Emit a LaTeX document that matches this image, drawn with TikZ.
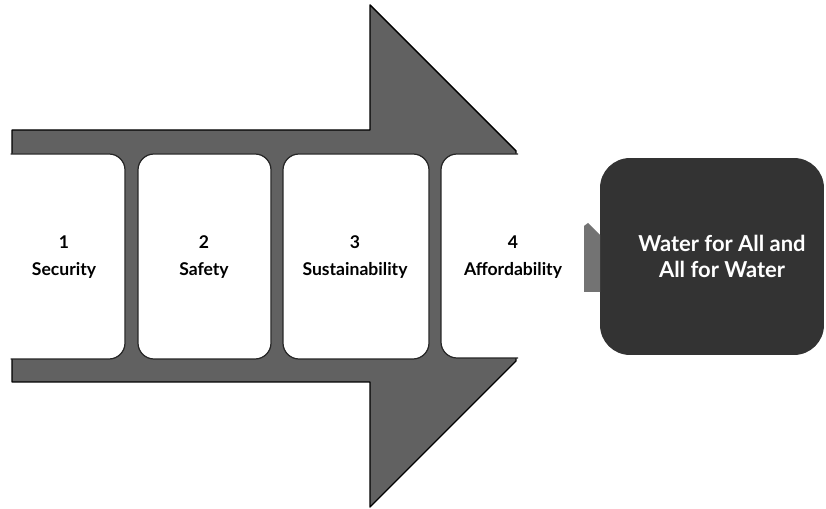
\documentclass[tikz,border=0pt]{standalone}
\usepackage{fontspec}
\setsansfont{Lato}
\usetikzlibrary{positioning}
\tikzset{
	every node/.style={
		font=\sffamily\bfseries\fontsize{10}{15}\selectfont
	},
	phase/.style={
		align=center,
		text=black
	},
	arrowbody/.style={
		fill=black!62,
		draw=black,
		line width=0.8pt,
		line join=round
	},
	card/.style={
		fill=white,
		draw=black!85,
		line width=0.7pt,
		rounded corners=0.32cm
	},
	goal/.style={
		shape=rectangle,
		fill=black!80,
		text=white,
		align=center,
		minimum width=4.48cm,
		minimum height=3.94cm,
		rounded corners=0.6cm,
		font=\sffamily\bfseries\fontsize{12.5}{15}\selectfont
	},
	pointer/.style={
		fill=black!55
	}
}

\begin{document}
\begin{tikzpicture}[x=0.02cm,y=-0.02cm]
	\useasboundingbox (0,0) rectangle (826,509);

	% big arrow
	\draw[arrowbody] (12,130) -- (370,130) -- (370,5) -- (516,151) -- (516,361)
		-- (370,507) -- (370,382) -- (12,382) -- cycle;

	% cards cut into the arrow
	\draw[card] (10.5,154) -- (125,154) -- (125,359) -- (10.5,359);
	\draw[card] (138,154) rectangle (271,359);
	\draw[card] (283,154) rectangle (429,359);
	\draw[card] (518,154) -- (441,154) -- (441,358) -- (518,358);

	\node[phase] (security) at (64,257) {1\\Security};
	\node[phase] (safety) at (204,257) {2\\Safety};
	\node[phase] (sustain) at (355,257) {3\\Sustainability};
	\node[phase] (afford) at (513,257) {4\\Affordability};

	% goal
	\node[goal] (goal) at (712,256.5) {\hspace*{0.4cm}Water for All and\\\hspace*{0.4cm}All for Water};
	\fill[pointer] (584,292) -- (584,226) -- (588,223) -- (600,235) -- (600,292) -- cycle;
\end{tikzpicture}
\end{document}
